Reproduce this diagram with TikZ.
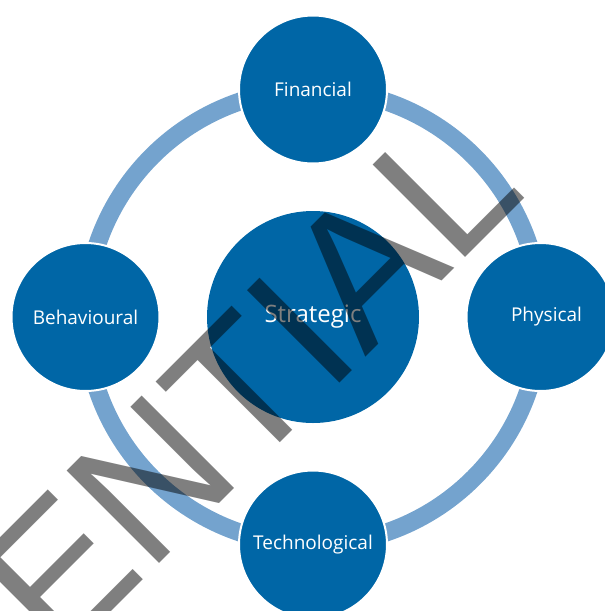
\documentclass[tikz,border=0pt]{standalone}
\usepackage{fontspec}
\setmainfont{Open Sans}
\newfontfamily\stampfont{Liberation Sans}
\usetikzlibrary{positioning}
\definecolor{corpblue}{RGB}{0,102,166}
\definecolor{ringblue}{RGB}{116,163,206}

\begin{document}
\begin{tikzpicture}[
    x=1pt, y=-1pt,
    node distance=227.5pt, % centre of the middle circle to each outer circle
    satellite/.style={circle, fill=corpblue, draw=white, line width=2pt, minimum size=148pt, inner sep=0pt, text=white, font=\fontsize{19}{22}\selectfont},
    core/.style={circle, fill=corpblue, minimum size=212pt, inner sep=0pt, text=white, font=\fontsize{24}{28}\selectfont},
    ring/.style={draw=ringblue, line width=18pt},
    watermark/.style={rotate=45, anchor=base west, inner sep=0pt, text=black, text opacity=0.5, font=\stampfont\fontsize{190}{190}\selectfont}
]
\useasboundingbox (0,0) rectangle (605,611);
\clip (0,0) rectangle (605,611);

% Middle circle
\node[core] (strat) at (313,317) {Strategic};

% Ring behind the outer circles
\draw[ring] (strat.center) circle[radius=227.5pt];

% Outer circles
\node[satellite, above of=strat] (fin) {Financial};
\node[satellite, right of=strat] (phys) {\hspace*{12pt}Physical};
\node[satellite, below of=strat] (tech) {Technological};
\node[satellite, left of=strat] (beh) {Behavioural};

% Stamp across the page
\node[watermark] (stamp) at (59.1,663.9) {ENTIAL};

\end{tikzpicture}
\end{document}
